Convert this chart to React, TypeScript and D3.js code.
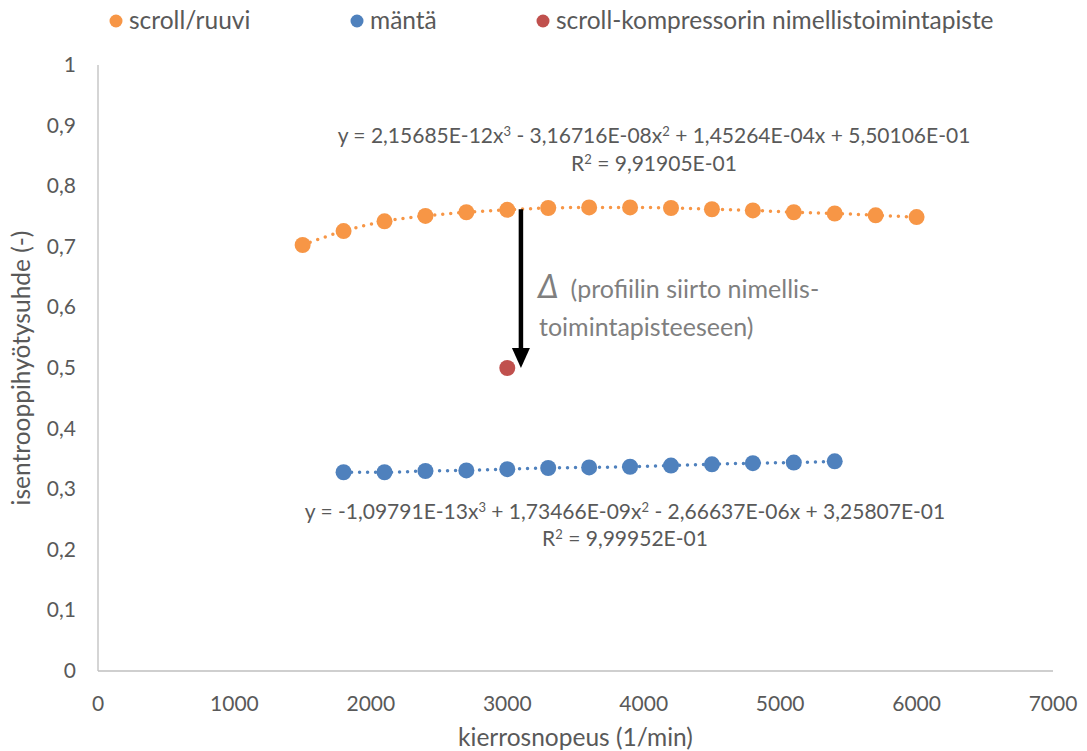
import React from "react";
import * as d3 from "d3";

const scrollRpm = [1500, 1800, 2100, 2400, 2700, 3000, 3300, 3600, 3900, 4200, 4500, 4800, 5100, 5400, 5700, 6000];
const scrollEff = [0.703, 0.726, 0.742, 0.751, 0.757, 0.761, 0.764, 0.765, 0.765, 0.764, 0.762, 0.76, 0.757, 0.755, 0.752, 0.749];
const pistonRpm = [1800, 2100, 2400, 2700, 3000, 3300, 3600, 3900, 4200, 4500, 4800, 5100, 5400];
const pistonEff = [0.328, 0.328, 0.33, 0.331, 0.333, 0.335, 0.336, 0.337, 0.339, 0.341, 0.343, 0.344, 0.346];
const nominalRpm = [3000];
const nominalEff = [0.5];
const xTicks = [0, 1000, 2000, 3000, 4000, 5000, 6000, 7000];
const yTicks = [0, 0.1, 0.2, 0.3, 0.4, 0.5, 0.6, 0.7, 0.8, 0.9, 1];

const ORANGE = "#F79646";
const BLUE = "#4F81BD";
const RED = "#C0504D";
const TEXT = "#595959";
const FONT = "Lato, 'Open Sans', sans-serif";

const width = 1087;
const height = 751;
const margin = { top: 65, right: 34, bottom: 80, left: 98 };

export default function App() {
  const x = d3.scaleLinear().domain([0, 7000]).range([margin.left, width - margin.right]);
  const y = d3.scaleLinear().domain([0, 1]).range([height - margin.bottom, margin.top]);

  const scroll = scrollRpm.map((r, i) => ({ r, e: scrollEff[i] }));
  const piston = pistonRpm.map((r, i) => ({ r, e: pistonEff[i] }));

  const line = d3
    .line<{ r: number; e: number }>()
    .x((d) => x(d.r))
    .y((d) => y(d.e))
    .curve(d3.curveMonotoneX);

  const fmt = (v: number) => (v === 0 || v === 1 ? String(v) : v.toFixed(1).replace(".", ","));

  // arrow from scroll curve down to the nominal point
  const ax = x(3100);
  const ay1 = y(0.762);
  const ay2 = y(nominalEff[0]);

  return (
    <svg width={width} height={height} style={{ position: "absolute", left: 0, top: 0, fontFamily: FONT }}>
      <rect width={width} height={height} fill="#fff" />

      {/* legend */}
      <g fontSize={24.5} fill={TEXT}>
        <circle cx={116} cy={21} r={6.5} fill={ORANGE} />
        <text x={129} y={29}>scroll/ruuvi</text>
        <circle cx={357} cy={21} r={6.5} fill={BLUE} />
        <text x={370} y={29}>mäntä</text>
        <circle cx={543} cy={21} r={6.5} fill={RED} />
        <text x={556} y={29}>scroll-kompressorin nimellistoimintapiste</text>
      </g>

      {/* axes */}
      <line x1={x(0)} x2={x(0)} y1={y(0)} y2={y(1)} stroke="#bfbfbf" strokeWidth={1.3} />
      <line x1={x(0)} x2={x(7000)} y1={y(0)} y2={y(0)} stroke="#bfbfbf" strokeWidth={1.3} />

      <g fontSize={21} fill={TEXT}>
        {yTicks.map((t) => (
          <text key={t} x={x(0) - 22} y={y(t) + 7} textAnchor="end">
            {fmt(t)}
          </text>
        ))}
        {xTicks.map((t) => (
          <text key={t} x={x(t)} y={y(0) + 40} textAnchor="middle">
            {t}
          </text>
        ))}
      </g>

      <text x={(x(0) + x(7000)) / 2} y={746} textAnchor="middle" fontSize={24.5} fill={TEXT}>
        kierrosnopeus (1/min)
      </text>
      <text
        transform={`translate(30, ${y(0.5)}) rotate(-90)`}
        textAnchor="middle"
        fontSize={24.5}
        fill={TEXT}
      >
        isentrooppihyötysuhde (-)
      </text>

      {/* trendlines */}
      <path d={line(scroll) ?? ""} fill="none" stroke={ORANGE} strokeWidth={3.5} strokeLinecap="round" strokeDasharray="0 8" />
      <path d={line(piston) ?? ""} fill="none" stroke={BLUE} strokeWidth={3.5} strokeLinecap="round" strokeDasharray="0 8" />

      {/* points */}
      {scroll.map((d) => (
        <circle key={"s" + d.r} cx={x(d.r)} cy={y(d.e)} r={8} fill={ORANGE} />
      ))}
      {piston.map((d) => (
        <circle key={"p" + d.r} cx={x(d.r)} cy={y(d.e)} r={8} fill={BLUE} />
      ))}
      {nominalRpm.map((r, i) => (
        <circle key={"n" + r} cx={x(r)} cy={y(nominalEff[i])} r={8} fill={RED} />
      ))}

      {/* arrow */}
      <line x1={ax} x2={ax} y1={ay1} y2={ay2 - 18} stroke="#000" strokeWidth={4.5} />
      <path d={`M${ax - 9},${ay2 - 20} L${ax + 9},${ay2 - 20} L${ax},${ay2} Z`} fill="#000" />

      <g fill="#7f7f7f" fontSize={25}>
        <text x={538} y={298}>
          <tspan fontSize={32} fontStyle="italic">Δ</tspan>
          <tspan dx={12}>(profiilin siirto nimellis-</tspan>
        </text>
        <text x={539} y={336}>toimintapisteeseen)</text>
      </g>

      {/* equations */}
      <g fontSize={21} fill={TEXT} textAnchor="middle">
        <text x={654} y={143}>
          y = 2,15685E-12x<tspan dy={-7} fontSize={13}>3</tspan>
          <tspan dy={7}> - 3,16716E-08x</tspan>
          <tspan dy={-7} fontSize={13}>2</tspan>
          <tspan dy={7}> + 1,45264E-04x + 5,50106E-01</tspan>
        </text>
        <text x={654} y={171}>
          R<tspan dy={-7} fontSize={13}>2</tspan>
          <tspan dy={7}> = 9,91905E-01</tspan>
        </text>
        <text x={625} y={519}>
          y = -1,09791E-13x<tspan dy={-7} fontSize={13}>3</tspan>
          <tspan dy={7}> + 1,73466E-09x</tspan>
          <tspan dy={-7} fontSize={13}>2</tspan>
          <tspan dy={7}> - 2,66637E-06x + 3,25807E-01</tspan>
        </text>
        <text x={625} y={546}>
          R<tspan dy={-7} fontSize={13}>2</tspan>
          <tspan dy={7}> = 9,99952E-01</tspan>
        </text>
      </g>
    </svg>
  );
}
